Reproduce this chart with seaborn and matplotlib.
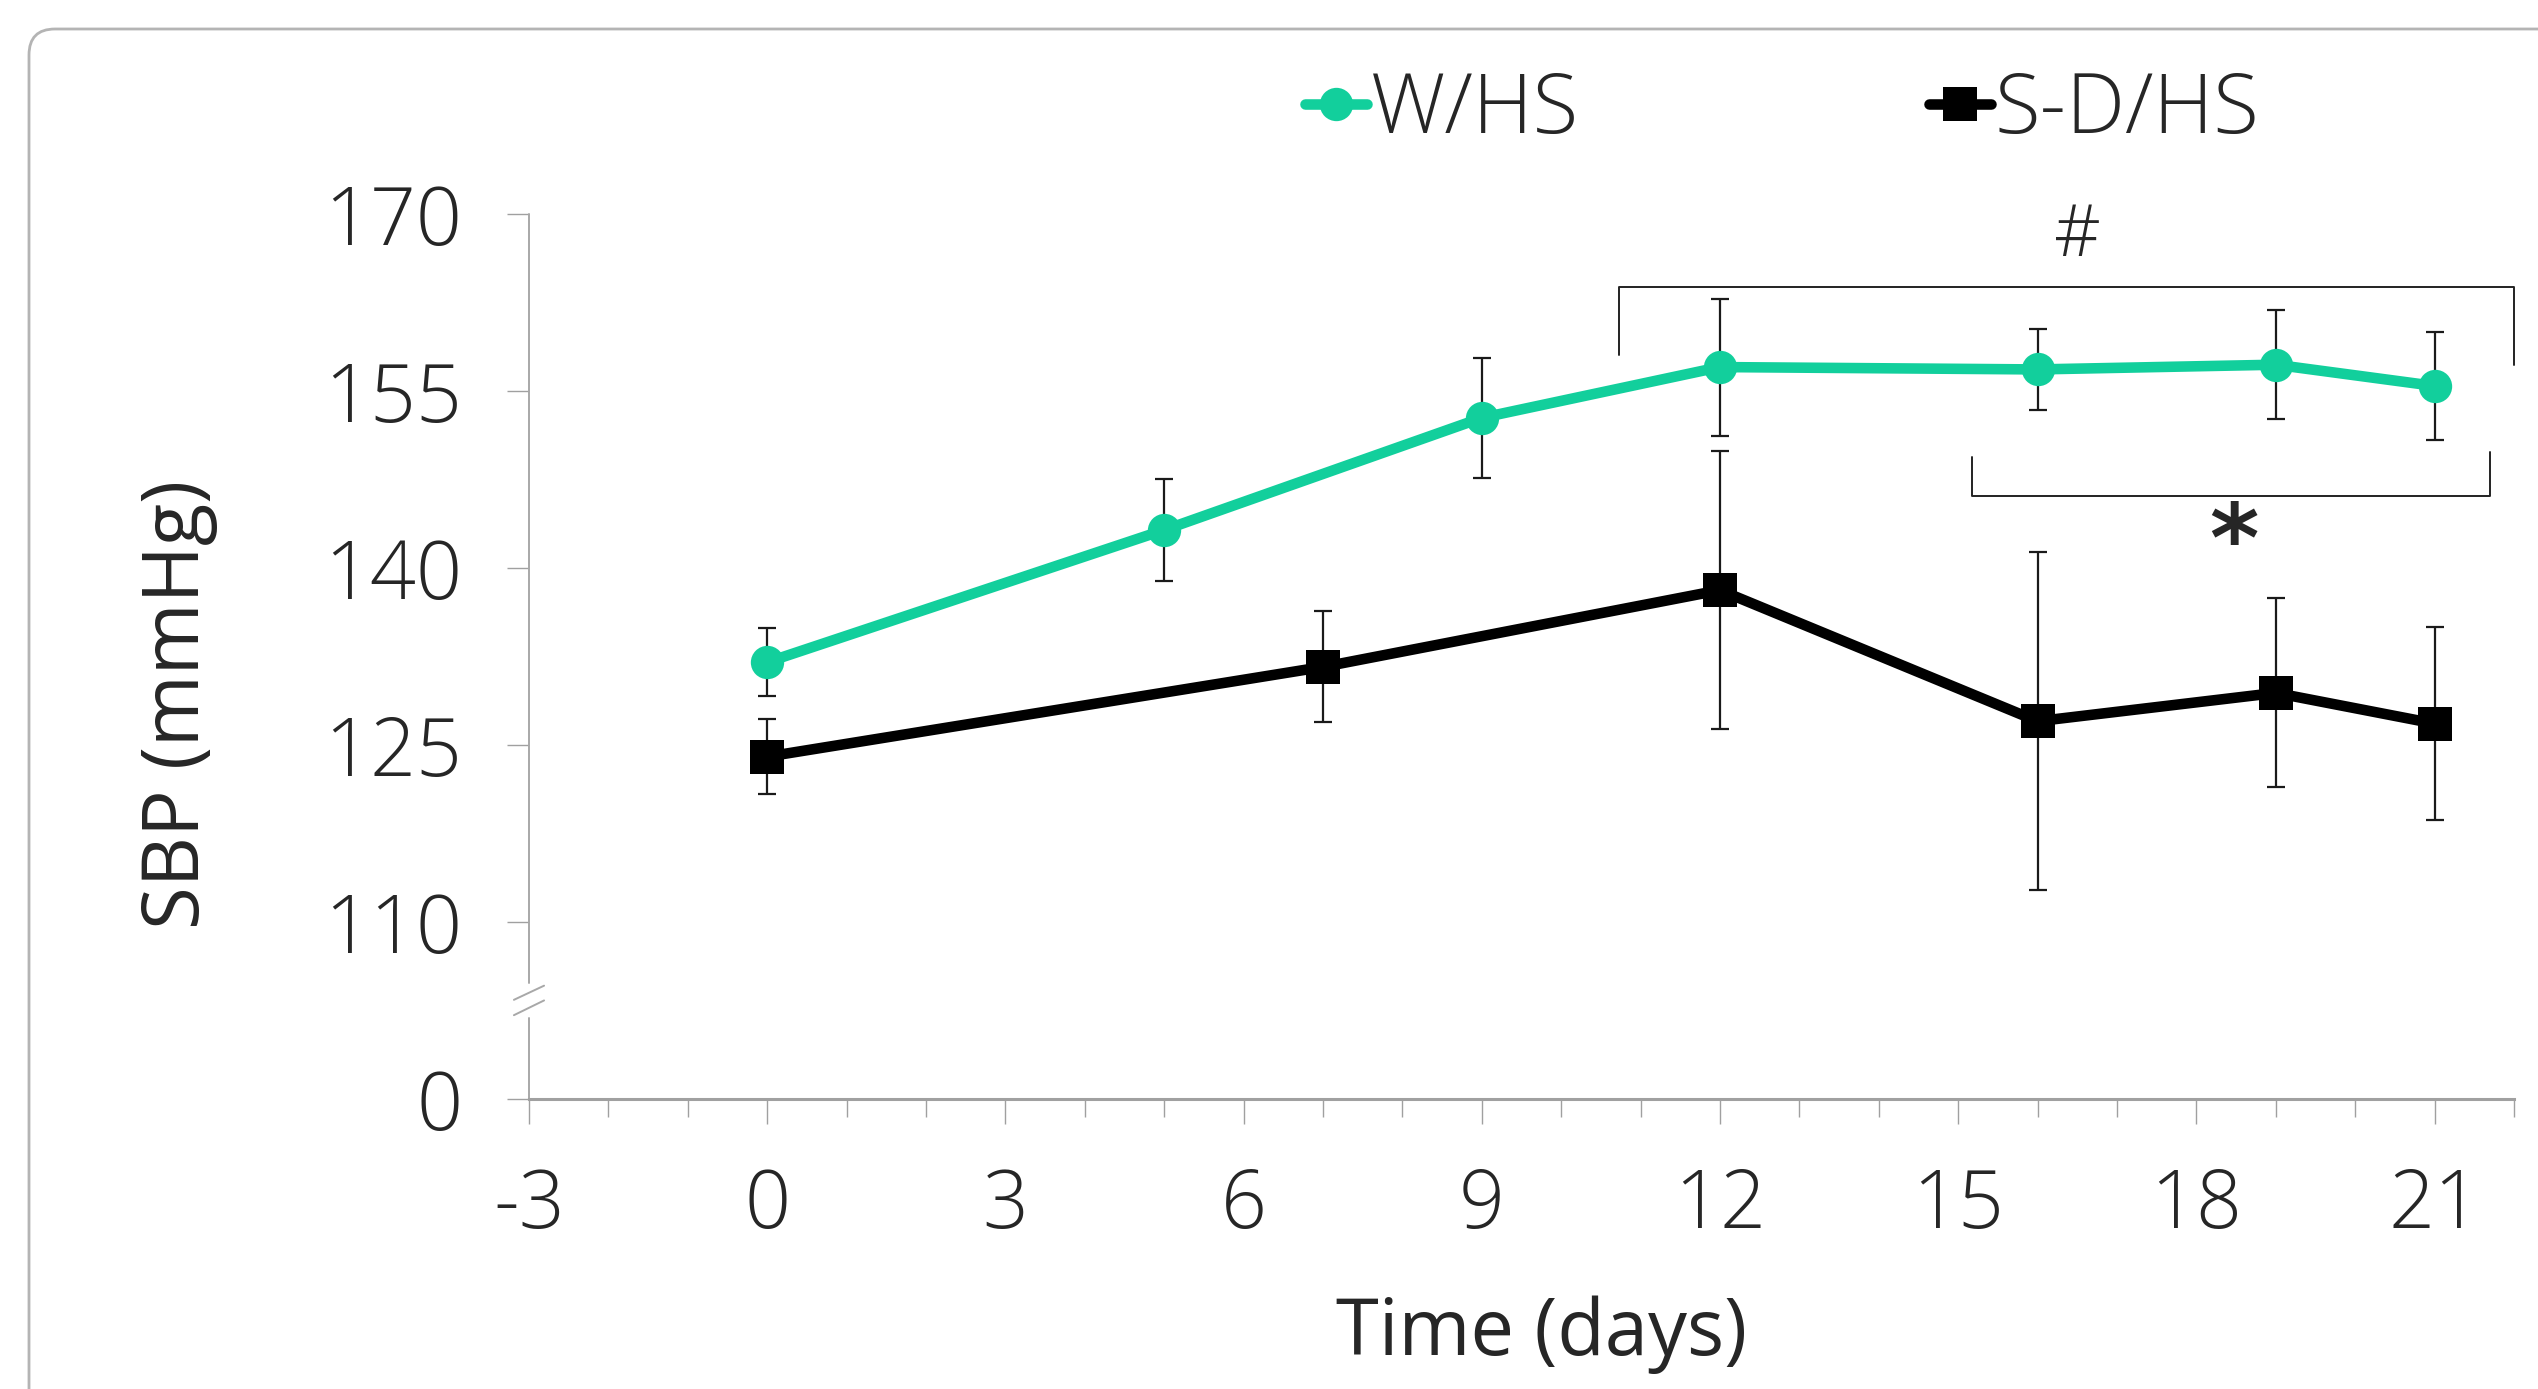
import numpy as np
import pandas as pd
import matplotlib
matplotlib.use("Agg")
import matplotlib.pyplot as plt
import seaborn as sns
from matplotlib.patches import FancyBboxPatch
from matplotlib.transforms import IdentityTransform
from matplotlib.lines import Line2D

# ---------------- data ----------------
groups = ["W/HS", "S-D/HS"]
w_days = [0, 5, 9, 12, 16, 19, 21]
w_sbp = [132.0, 143.2, 152.7, 157.0, 156.8, 157.2, 155.4]
w_err = [2.9, 4.3, 5.1, 5.8, 3.4, 4.6, 4.6]
sd_days = [0, 7, 12, 16, 19, 21]
sd_sbp = [124.0, 131.6, 138.1, 127.0, 129.4, 126.8]
sd_err = [3.2, 4.7, 11.8, 14.3, 8.0, 8.2]

x_ticks = list(range(-3, 22, 3))
x_minor = list(range(-3, 23, 1))
y_ticks = [95, 110, 125, 140, 155, 170]          # 95 is the position of the broken "0"
y_ticklabels = ["0", "110", "125", "140", "155", "170"]

hash_bracket = {"x0": 10.73, "x1": 22.0, "y": 163.8, "yl": 158.05, "yr": 157.2, "label": "#", "lx": 16.5, "ly": 168.0}
star_bracket = {"x0": 15.18, "x1": 21.7, "y": 146.1, "yl": 149.4, "yr": 149.8, "label": "*", "lx": 18.47, "ly": 141.9}

colors = {"W/HS": "#12CF9C", "S-D/HS": "#000000"}
markers = {"W/HS": "o", "S-D/HS": "s"}

# ---------------- style ----------------
sns.set_style("white")
plt.rcParams["font.family"] = ["Open Sans", "DejaVu Sans"]
plt.rcParams["font.weight"] = "light"
plt.rcParams["axes.unicode_minus"] = False

DPI = 200
fig = plt.figure(figsize=(2538 / DPI, 1389 / DPI), dpi=DPI)
fig.patch.set_facecolor("white")

# rounded outer frame (partly outside canvas on right/bottom)
frame = FancyBboxPatch((29, -60), 2700, 1389 - 29 + 60,
                       boxstyle="round,pad=0,rounding_size=26",
                       transform=IdentityTransform(), facecolor="none",
                       edgecolor="#b4b4b4", linewidth=1.0)
fig.patches.append(frame)

ax = fig.add_axes([529 / 2538, 1 - 1099 / 1389, (2514 - 529) / 2538, (1099 - 213.6) / 1389])
ax.set_facecolor("none")

df = pd.concat([
    pd.DataFrame({"day": w_days, "sbp": w_sbp, "err": w_err, "group": groups[0]}),
    pd.DataFrame({"day": sd_days, "sbp": sd_sbp, "err": sd_err, "group": groups[1]}),
], ignore_index=True)

# error bars (behind the lines)
for g, sub in df.groupby("group"):
    ax.errorbar(sub["day"], sub["sbp"], yerr=sub["err"], fmt="none",
                ecolor="#1a1a1a", elinewidth=0.8, capsize=3.2, capthick=0.8, zorder=2)

sns.lineplot(data=df, x="day", y="sbp", hue="group", style="group",
             hue_order=groups, style_order=groups,
             palette=colors, markers=markers, dashes=False,
             linewidth=3.8, markersize=12, markeredgewidth=0,
             legend=False, ax=ax, zorder=3)

ax.set_xlim(-3, 22)
ax.set_ylim(95, 170)

# spines
for s in ["top", "right", "left"]:
    ax.spines[s].set_visible(False)
ax.spines["bottom"].set_color("#a0a0a0")
ax.spines["bottom"].set_linewidth(1.1)

# broken left axis
axis_col = "#a8a8a8"
ax.plot([-3, -3], [95, 101.9], color=axis_col, lw=0.7, clip_on=False, zorder=1)
ax.plot([-3, -3], [104.8, 170], color=axis_col, lw=0.7, clip_on=False, zorder=1)
ax.plot([-3.19, -2.81], [103.4, 104.6], color=axis_col, lw=0.7, clip_on=False)
ax.plot([-3.19, -2.81], [102.1, 103.35], color=axis_col, lw=0.7, clip_on=False)

# ticks
ax.set_xticks(x_ticks)
ax.set_xticks(x_minor, minor=True)
ax.set_yticks(y_ticks)
ax.set_yticklabels(y_ticklabels)
ax.tick_params(axis="x", which="major", direction="out", length=9, width=0.5,
               color="#a0a0a0", labelsize=29, pad=15, bottom=True)
ax.tick_params(axis="x", which="minor", direction="out", length=6.5, width=0.5,
               color="#a0a0a0", bottom=True)
ax.tick_params(axis="y", which="major", direction="out", length=8, width=0.5,
               color="#a0a0a0", labelsize=29, pad=16, left=True)

ax.set_xlabel("Time (days)", fontsize=28)
ax.xaxis.set_label_coords(0.51, -0.2665)
ax.xaxis.label.set_va("center")
ax.set_ylabel("SBP (mmHg)", fontsize=28)
ax.yaxis.set_label_coords(-0.1768, 0.446)
ax.yaxis.label.set_va("center")

# significance brackets
for b in (hash_bracket, star_bracket):
    ax.plot([b["x0"], b["x0"], b["x1"], b["x1"]], [b["yl"], b["y"], b["y"], b["yr"]],
            color="#222222", lw=0.7, clip_on=False, zorder=4)
ax.text(hash_bracket["lx"], hash_bracket["ly"], hash_bracket["label"], fontsize=26,
        ha="center", va="center")
ax.text(star_bracket["lx"], star_bracket["ly"], star_bracket["label"], fontsize=34,
        fontweight="bold", ha="center", va="center", family="DejaVu Sans")

# legend
handles = [Line2D([], [], color=colors[g], marker=markers[g], lw=3.8, markersize=12,
                  markeredgewidth=0) for g in groups]
fig.legend(handles, groups, loc="center left", bbox_to_anchor=(1305 / 2538, 1 - 112 / 1389),
           ncol=2, frameon=False, fontsize=30, handlelength=0.74, handletextpad=0.05,
           columnspacing=4.2, borderpad=0, borderaxespad=0)

fig.savefig("out.png", dpi=DPI)
